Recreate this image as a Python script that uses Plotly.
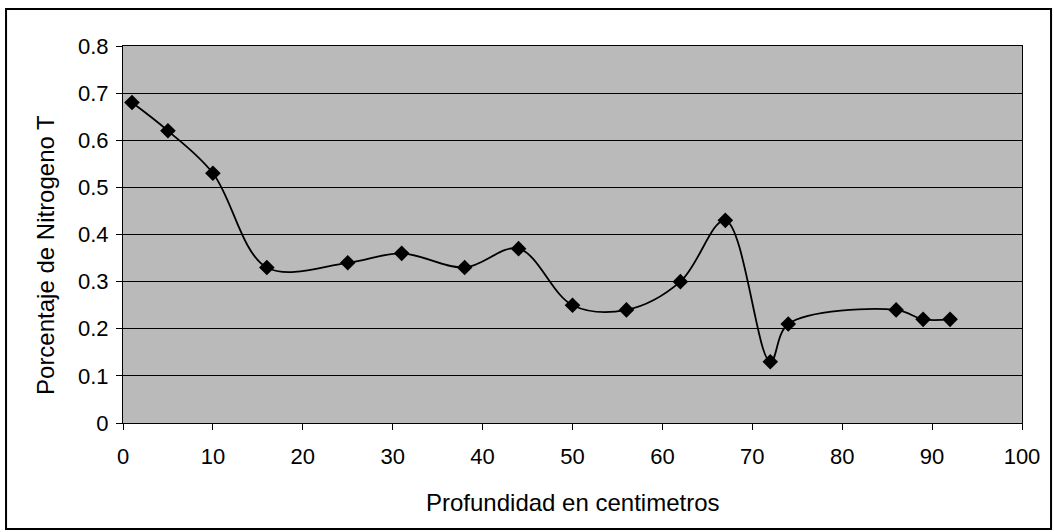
import plotly.graph_objects as go

# Soil profile: total nitrogen percentage by depth
profundidad_cm = [1, 5, 10, 16, 25, 31, 38, 44, 50, 56, 62, 67, 72, 74, 86, 89, 92]
nitrogeno_pct = [0.68, 0.62, 0.53, 0.33, 0.34, 0.36, 0.33, 0.37, 0.25, 0.24,
                 0.30, 0.43, 0.13, 0.21, 0.24, 0.22, 0.22]

x_ticks = [0, 10, 20, 30, 40, 50, 60, 70, 80, 90, 100]
y_ticks = [0, 0.1, 0.2, 0.3, 0.4, 0.5, 0.6, 0.7, 0.8]
y_tick_text = ["0", "0.1", "0.2", "0.3", "0.4", "0.5", "0.6", "0.7", "0.8"]

FONT = "Liberation Sans, Arial, sans-serif"

fig = go.Figure()
fig.add_trace(go.Scatter(
    x=profundidad_cm,
    y=nitrogeno_pct,
    mode="lines+markers",
    line=dict(color="black", width=1.8, shape="spline", smoothing=1.0),
    marker=dict(symbol="diamond", size=12, color="black"),
    showlegend=False,
    hoverinfo="x+y",
))

fig.update_layout(
    width=1054,
    height=532,
    margin=dict(l=123, r=32, t=46, b=109),
    paper_bgcolor="white",
    plot_bgcolor="#bababa",
    font=dict(family=FONT, size=22, color="black"),
    xaxis=dict(
        range=[0, 100],
        tickvals=x_ticks,
        ticks="outside",
        ticklen=6,
        tickcolor="black",
        ticklabelstandoff=8,
        showgrid=False,
        zeroline=False,
        showline=True,
        linecolor="black",
        linewidth=1,
        mirror=True,
        tickfont=dict(size=22),
    ),
    yaxis=dict(
        range=[0, 0.8],
        tickvals=y_ticks,
        ticktext=y_tick_text,
        ticks="outside",
        ticklen=6,
        tickcolor="black",
        ticklabelstandoff=3,
        showgrid=True,
        gridcolor="black",
        gridwidth=1,
        zeroline=False,
        showline=True,
        linecolor="black",
        linewidth=1,
        mirror=True,
        tickfont=dict(size=22),
    ),
    annotations=[
        dict(
            text="Profundidad en centimetros",
            xref="paper", yref="paper",
            x=0.5, y=-0.212,
            xanchor="center", yanchor="middle",
            showarrow=False,
            font=dict(size=24),
        ),
        dict(
            text="Porcentaje de Nitrogeno T",
            xref="paper", yref="paper",
            x=-0.0868, y=0.4456,
            xanchor="center", yanchor="middle",
            textangle=-90,
            showarrow=False,
            font=dict(size=24),
        ),
    ],
    shapes=[
        dict(
            type="rect",
            xref="paper", yref="paper",
            x0=-0.1301, x1=1.0323, y0=-0.2812, y1=1.098,
            line=dict(color="black", width=2),
            fillcolor="rgba(0,0,0,0)",
            layer="below",
        )
    ],
)

fig.write_html("out.html")
